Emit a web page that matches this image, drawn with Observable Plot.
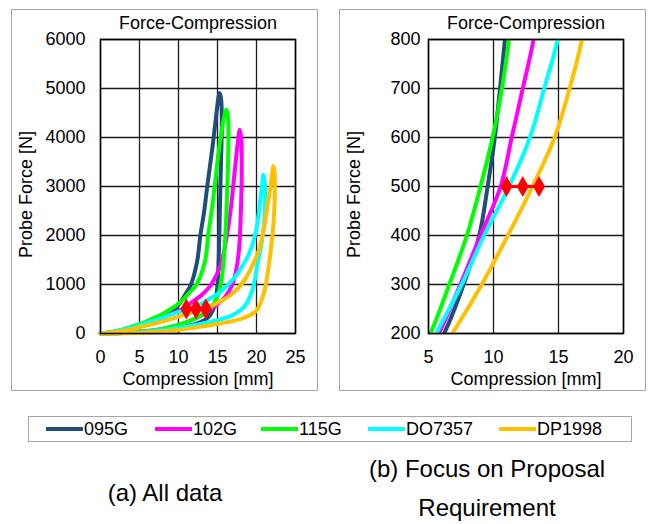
<!DOCTYPE html>
<html><head><meta charset="utf-8">
<script src="https://cdn.jsdelivr.net/npm/d3@7"></script>
<script src="https://cdn.jsdelivr.net/npm/@observablehq/plot@0.6"></script>
<style>
body{margin:0;background:#fff;font-family:"Liberation Sans",Arial,sans-serif;}
#wrap{position:relative;width:649px;height:524px;overflow:hidden;background:#fff;}
.pan{position:absolute;border:1px solid #a6a6a6;}
.pan svg{display:block;}
#legend{position:absolute;left:28px;top:416px;width:604px;height:26px;border:1px solid #a6a6a6;box-sizing:border-box;}
.sw{position:absolute;top:10px;height:4px;width:37px;}
.lt{position:absolute;top:2px;font-size:18px;line-height:20px;color:#000;}
.cap{position:absolute;font-size:24px;line-height:26px;color:#000;text-align:center;white-space:nowrap;transform:translateX(-50%);}
</style></head><body>
<div id="wrap">
  <div id="left" class="pan" style="left:11px;top:9px"></div>
  <div id="right" class="pan" style="left:339px;top:9px"></div>
  <div id="legend"></div>
  <div class="cap" id="capA" style="left:165px;top:480px"></div>
  <div class="cap" id="capB1" style="left:487px;top:456px"></div>
  <div class="cap" id="capB2" style="left:487px;top:495px"></div>
</div>
<script>
// ---- data ----
const series = ["095G", "102G", "115G", "DO7357", "DP1998"];
const colors = ["#1F4E79", "#FF00FF", "#00FF00", "#00FFFF", "#FFC000"];

// [compression mm, force N] - loading branches
const load095G = [[0,0],[1.5,25],[3,65],[4.5,120],[6.2,200],[7.7,300],[8.9,400],[9.55,500],[10.1,600],[10.5,700],[10.88,800],[11.6,1000],[12.4,1480],[12.8,2000],[13.3,2500],[13.7,3020],[14.3,3735],[14.8,4400],[15.1,4800],[15.26,4910]];
const unload095G = [[15.45,4800],[15.55,4300],[15.45,3500],[15.3,2500],[15.15,1500],[15.0,1000],[14.6,550],[13.8,330],[12.5,210],[10.5,130],[8,70],[5,25],[2,5],[0,0]];

const load102G = [[0,0],[1.5,28],[3,75],[4.5,135],[5.8,200],[7.45,300],[9.0,400],[10.55,500],[11.4,600],[12.25,700],[13.08,800],[14.2,1000],[15.4,1400],[16.1,1900],[16.7,2540],[17.2,3300],[17.6,3900],[17.86,4160]];
const unload102G = [[18.05,3950],[18.1,3300],[18.0,2500],[17.8,1800],[17.4,1300],[16.9,1000],[16.0,750],[14.7,560],[13.3,400],[11.5,260],[9,130],[6,50],[3,12],[0,0]];

const load115G = [[0,0],[1.5,35],[3,90],[4,140],[5.15,200],[6.6,300],[7.95,400],[9.0,500],[9.93,600],[10.65,700],[11.2,800],[12.3,1000],[13.4,1480],[13.8,2000],[14.25,2500],[14.65,3020],[15.17,3735],[15.7,4300],[16.0,4520],[16.15,4570]];
const unload115G = [[16.35,4400],[16.4,4000],[16.3,3200],[16.1,2300],[15.8,1500],[15.4,1000],[14.7,650],[13.6,450],[12.2,310],[10.5,200],[8,100],[5,35],[2,8],[0,0]];

const loadDO7357 = [[0,0],[1.5,28],[3,80],[4.5,140],[5.6,200],[7.55,300],[9.28,400],[11.2,500],[12.8,600],[13.9,700],[14.95,800],[16.4,1000],[17.9,1300],[19.2,1690],[19.95,2100],[20.4,2600],[20.7,3000],[20.88,3240]];
const unloadDO7357 = [[21.05,3100],[21.1,2700],[20.95,2200],[20.6,1800],[20.1,1400],[19.5,900],[18.5,560],[17.0,380],[14.7,260],[12,170],[9,90],[6,35],[3,8],[0,0]];

const loadDP1998 = [[0,0],[1.5,20],[3,55],[4.8,120],[6.83,200],[9.1,300],[11.1,400],[13.0,500],[14.7,600],[15.85,700],[16.8,800],[18.3,1050],[19.5,1400],[20.3,1700],[21.0,2200],[21.6,2800],[22.0,3250],[22.14,3420]];
const unloadDP1998 = [[22.3,3300],[22.35,2900],[22.2,2300],[21.9,1800],[21.5,1300],[20.9,800],[19.9,450],[18.0,300],[15.5,210],[12.5,130],[9.5,65],[6,20],[3,4],[0,0]];

// proposal requirement markers
const reqX = [11.0, 12.25, 13.5];
const reqY = [500, 500, 500];

// axes
const xTicksA = [0, 5, 10, 15, 20, 25];
const yTicksA = [0, 1000, 2000, 3000, 4000, 5000, 6000];
const xTicksB = [5, 10, 15, 20];
const yTicksB = [200, 300, 400, 500, 600, 700, 800];
const panelTitle = "Force-Compression";
const xLabel = "Compression [mm]";
const yLabel = "Probe Force [N]";
const captionA = "(a) All data";
const captionB = ["(b) Focus on Proposal", "Requirement"];

// ---- build tables ----
const loads = [load095G, load102G, load115G, loadDO7357, loadDP1998];
const unloads = [unload095G, unload102G, unload115G, unloadDO7357, unloadDP1998];
const loopRows = series.flatMap((s, i) => loads[i].concat(unloads[i]).map(([x, y]) => ({s, x, y})));
const loadRows = series.flatMap((s, i) => loads[i].map(([x, y]) => ({s, x, y})));
const req = reqX.map((x, i) => ({x, y: reqY[i]}));

function panel(rows, xd, yd, xt, yt, tickPad, clip) {
  return Plot.plot({
    width: 305, height: 380,
    marginLeft: 88, marginRight: 22, marginTop: 29, marginBottom: 57,
    style: {fontFamily: "Liberation Sans, Arial, sans-serif", fontSize: "18px", color: "#000", background: "#fff"},
    x: {domain: xd, ticks: xt, tickSize: 0, label: null},
    y: {domain: yd, ticks: yt, tickSize: 0, label: null},
    color: {domain: series, range: colors},
    marks: [
      Plot.gridX(xt, {stroke: "#1a1a1a", strokeOpacity: 1, strokeWidth: 1.3}),
      Plot.gridY(yt, {stroke: "#1a1a1a", strokeOpacity: 1, strokeWidth: 1.3}),
      Plot.line(rows, {x: "x", y: "y", z: "s", stroke: "s", strokeWidth: 4, curve: "catmull-rom", clip}),
      Plot.line(req, {x: "x", y: "y", stroke: "#FF0000", strokeWidth: 3}),
      Plot.dot(req, {x: "x", y: "y", symbol: "diamond", fill: "#FF0000", r: 6.3}),
      Plot.frame({stroke: "#000", strokeWidth: 1.5}),
      Plot.axisX(xt, {tickSize: 0, tickPadding: 17, label: null, fontSize: 18, tickFormat: d3.format("d")}),
      Plot.axisY(yt, {tickSize: 0, tickPadding: tickPad, label: null, fontSize: 18, tickFormat: d3.format("d")}),
      Plot.text([panelTitle], {frameAnchor: "top", lineAnchor: "middle", dy: -16, text: d => d, fontSize: 18}),
      Plot.text([xLabel], {frameAnchor: "bottom", lineAnchor: "middle", dy: 46, text: d => d, fontSize: 18}),
      Plot.text([yLabel], {frameAnchor: "left", textAnchor: "middle", lineAnchor: "middle", rotate: -90, dx: -74, dy: 8, text: d => d, fontSize: 18})
    ]
  });
}

document.getElementById("left").appendChild(panel(loopRows, [0, 25], [0, 6000], xTicksA, yTicksA, 15, false));
document.getElementById("right").appendChild(panel(loadRows, [5, 20], [200, 800], xTicksB, yTicksB, 8, "frame"));

// legend
const swX = [17, 126, 232, 339, 470];
const lg = document.getElementById("legend");
series.forEach((s, i) => {
  const sw = document.createElement("div");
  sw.className = "sw"; sw.style.left = swX[i] + "px"; sw.style.background = colors[i];
  lg.appendChild(sw);
  const t = document.createElement("div");
  t.className = "lt"; t.style.left = (swX[i] + 38) + "px"; t.textContent = s;
  lg.appendChild(t);
});
document.getElementById("capA").textContent = captionA;
document.getElementById("capB1").textContent = captionB[0];
document.getElementById("capB2").textContent = captionB[1];
</script>
</body></html>
